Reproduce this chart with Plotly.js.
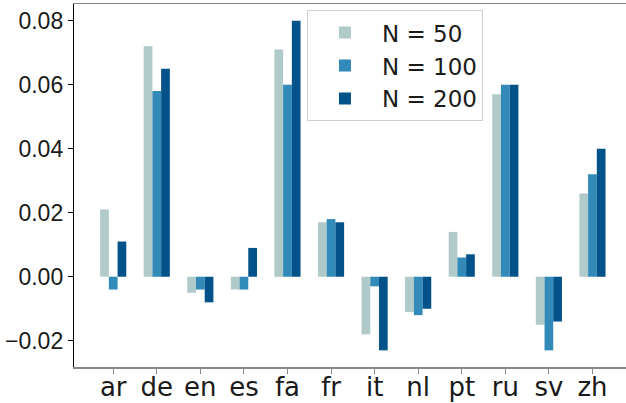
<!DOCTYPE html>
<html>
<head>
<meta charset="utf-8">
<script src="https://cdn.plot.ly/plotly-3.0.1.min.js"></script>
<style>html,body{margin:0;padding:0;background:#fff;}#chart{width:626px;height:403px;}</style>
</head>
<body>
<div id="chart"></div>
<script>
const categories = ["ar","de","en","es","fa","fr","it","nl","pt","ru","sv","zh"];
const n50  = [0.021, 0.072, -0.005, -0.004, 0.071, 0.017, -0.018, -0.011, 0.014, 0.057, -0.015, 0.026];
const n100 = [-0.004, 0.058, -0.004, -0.004, 0.060, 0.018, -0.003, -0.012, 0.006, 0.060, -0.023, 0.032];
const n200 = [0.011, 0.065, -0.008, 0.009, 0.080, 0.017, -0.023, -0.010, 0.007, 0.060, -0.014, 0.040];
const seriesNames = ["N = 50", "N = 100", "N = 200"];
const yTicks = [-0.02, 0.00, 0.02, 0.04, 0.06, 0.08];
const yTickText = ["\u22120.02", "0.00", "0.02", "0.04", "0.06", "0.08"];

const colors = ["#afcac8", "#318ab8", "#035289"];
const offsets = [-0.3, -0.1, 0.1];
const data = [n50, n100, n200].map((vals, i) => ({
  type: "bar",
  x: categories,
  y: vals,
  name: seriesNames[i],
  width: 0.2,
  offset: offsets[i],
  marker: {color: colors[i], line: {width: 0}}
}));

const layout = {
  width: 626, height: 403,
  margin: {l: 74, r: 0, t: 4, b: 36},
  paper_bgcolor: "#fff", plot_bgcolor: "#fff",
  barmode: "overlay",
  showlegend: true,
  legend: {
    x: 0.422, y: 0.983, xanchor: "left", yanchor: "top",
    bgcolor: "rgba(255,255,255,0.8)", bordercolor: "#d0d0d0", borderwidth: 1,
    font: {family: "DejaVu Sans", size: 23, color: "#1a1a1a"},
    itemwidth: 64, tracegroupgap: 4
  },
  xaxis: {
    type: "category",
    range: [-0.9, 11.77],
    showline: true, linecolor: "#888", linewidth: 1.5, mirror: true,
    ticks: "outside", ticklen: 5, tickcolor: "#888", tickwidth: 1,
    ticklabelstandoff: -9,
    showgrid: false, zeroline: false,
    tickfont: {family: "DejaVu Sans", size: 26, color: "#1a1a1a"}
  },
  yaxis: {
    range: [-0.0282, 0.0852],
    tickvals: yTicks, ticktext: yTickText,
    showline: true, linecolor: "#000", linewidth: 1.2,
    ticks: "outside", ticklen: 5, tickcolor: "#000", tickwidth: 1,
    showgrid: false, zeroline: false,
    tickfont: {family: "Liberation Sans", size: 23, color: "#1a1a1a"}
  }
};

Plotly.newPlot("chart", data, layout, {displayModeBar: false, staticPlot: true});
</script>
</body>
</html>
